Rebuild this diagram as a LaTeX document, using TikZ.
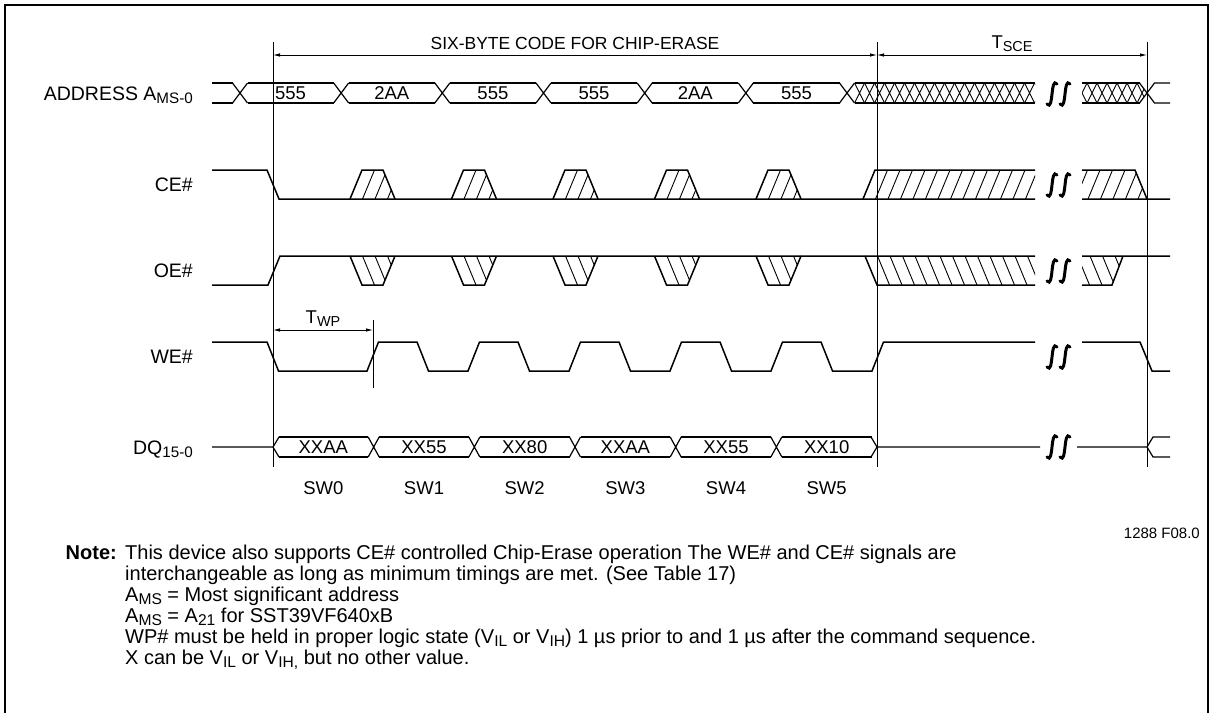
\documentclass[tikz,border=0pt]{standalone}
\usepackage{fontspec}
\setmainfont{Liberation Sans}
\usetikzlibrary{arrows.meta}

\newcommand{\lo}[1]{\raisebox{-0.18em}{\scalebox{0.78}{#1}}}

\tikzset{
  wave/.style={line width=1.5pt},
  bus/.style={line width=1.2pt},
  hatch/.style={line width=0.9pt},
  refline/.style={line width=0.8pt},
  dim/.style={line width=0.8pt, >={Latex[length=7pt,width=3.5pt]}, <->},
  lbl/.style={font=\fontsize{18.5}{21}\selectfont, inner sep=0pt},
  sig/.style={font=\fontsize{19.5}{22}\selectfont, inner sep=0pt, anchor=base east},
  note/.style={font=\fontsize{20}{23}\selectfont, inner sep=0pt, anchor=base west},
  brkmark/.style={line width=3pt, line cap=round},
}

% break mark: two long s strokes
\newcommand{\brk}[2]{%
  \draw[brkmark] (#1+5,#2-10) .. controls (#1-2,#2-18) and (#1+2,#2+18) .. (#1-5,#2+10);
  \draw[brkmark] (#1+18,#2-10) .. controls (#1+11,#2-18) and (#1+15,#2+18) .. (#1+8,#2+10);
}

\begin{document}
\begin{tikzpicture}[x=1pt,y=-1pt]
\useasboundingbox (0,0) rectangle (1213,713);
% frame
\draw[line width=2.2pt] (5,713) -- (5,5) -- (1208,5) -- (1208,713);

% timing reference lines
\foreach \n/\x in {a/273,b/877,c/1147} {
  \coordinate (\n-top) at (\x,42);
  \coordinate (\n-bot) at (\x,467);
  \coordinate (\n-dim) at (\x,55);
  \draw[refline] (\n-top) -- (\n-bot);
}
\draw[dim] (a-dim) -- (b-dim) node[midway,above=5pt,lbl,font=\fontsize{17.5}{20}\selectfont] (code) {SIX-BYTE CODE FOR CHIP-ERASE};
\draw[dim] (b-dim) -- (c-dim) node[midway,above=3pt,lbl] (tsce) {T\lo{SCE}};

% signal names
\path (193,100) node[sig] (addr) {ADDRESS A\lo{MS-0}};
\path (193,191.5) node[sig] (ce) {CE\#};
\path (193,277.5) node[sig] (oe) {OE\#};
\path (193,363.5) node[sig] (we) {WE\#};
\path (193,454) node[sig] (dq) {DQ\lo{15-0}};

% address bus
\draw[bus] (212,83) -- (232.5,83) (212,103) -- (232.5,103);
\foreach \k in {0,...,6} {
  \pgfmathsetmacro\cx{240+101.17*\k}
  \draw[bus] (\cx-7.5,83) -- (\cx+7.5,103) (\cx-7.5,103) -- (\cx+7.5,83);
}
\foreach \k/\v in {0/555,1/2AA,2/555,3/555,4/2AA,5/555} {
  \pgfmathsetmacro\cx{240+101.17*\k}
  \draw[bus] (\cx+7.5,83) -- (\cx+93.67,83) (\cx+7.5,103) -- (\cx+93.67,103);
  \path (\cx+50.58,93) node[lbl] (ad\k) {\v};
}
\draw[bus] (854.5,83) -- (1035,83) (854.5,103) -- (1035,103);
\begin{scope}
  \clip (854.5,83) rectangle (1035,103);
  \foreach \i in {0,...,18}
    \draw[hatch] (854.5+10*\i,83) -- ++(10,20) (854.5+10*\i,103) -- ++(10,-20);
\end{scope}
\draw[bus] (1082,83) -- (1139.5,83) (1082,103) -- (1139.5,103);
\begin{scope}
  \clip (1082,83) -- (1139.5,83) -- (1147,93) -- (1139.5,103) -- (1082,103) -- cycle;
  \foreach \i in {0,...,6}
    \draw[hatch] (1077+10*\i,83) -- ++(10,20) (1077+10*\i,103) -- ++(10,-20);
\end{scope}
\draw[bus] (1139.5,83) -- (1154.5,103) -- (1170,103) (1139.5,103) -- (1154.5,83) -- (1170,83);
\brk{1052}{94}

% CE#
\draw[wave] (212,170) -- (267,170) -- (279,199) -- (1035,199) (1082,199) -- (1170,199);
\foreach \k in {0,...,4} {
  \pgfmathsetmacro\tc{372.5+101.5*\k}
  \draw[wave] (\tc-22.5,199) -- (\tc-10.5,170) -- (\tc+10.5,170) -- (\tc+22.5,199);
  \begin{scope}
    \clip (\tc-22.5,199) -- (\tc-10.5,170) -- (\tc+10.5,170) -- (\tc+22.5,199) -- cycle;
    \foreach \i in {1,2,3} \draw[hatch] (\tc-22.5+12.5*\i,199) -- ++(12,-29);
  \end{scope}
}
\draw[wave] (863,199) -- (875,170) -- (1035,170);
\begin{scope}
  \clip (863,199) -- (875,170) -- (1035,170) -- (1035,199) -- cycle;
  \foreach \i in {1,...,14} \draw[hatch] (863+12.5*\i,199) -- ++(12,-29);
\end{scope}
\draw[wave] (1082,170) -- (1135,170) -- (1147,199);
\begin{scope}
  \clip (1082,199) -- (1082,170) -- (1135,170) -- (1147,199) -- cycle;
  \foreach \i in {17,...,22} \draw[hatch] (863+12.5*\i,199) -- ++(12,-29);
\end{scope}
\brk{1052}{185}

% OE#
\draw[wave] (212,285) -- (268,285) -- (280,256) -- (1035,256) (1082,256) -- (1170,256);
\foreach \k in {0,...,4} {
  \pgfmathsetmacro\tc{372.5+101.5*\k}
  \draw[wave] (\tc-22.5,256) -- (\tc-10.5,285) -- (\tc+10.5,285) -- (\tc+22.5,256);
  \begin{scope}
    \clip (\tc-22.5,256) -- (\tc-10.5,285) -- (\tc+10.5,285) -- (\tc+22.5,256) -- cycle;
    \foreach \i in {1,2,3} \draw[hatch] (\tc-22.5+12.5*\i,256) -- ++(12,29);
  \end{scope}
}
\draw[wave] (865,256) -- (877,285) -- (1035,285);
\begin{scope}
  \clip (865,256) -- (877,285) -- (1035,285) -- (1035,256) -- cycle;
  \foreach \i in {1,...,14} \draw[hatch] (865+12.5*\i,256) -- ++(12,29);
\end{scope}
\draw[wave] (1082,285) -- (1112,285) -- (1123,256);
\begin{scope}
  \clip (1082,256) -- (1082,285) -- (1112,285) -- (1123,256) -- cycle;
  \foreach \i in {17,...,21} \draw[hatch] (865+12.5*\i,256) -- ++(12,29);
\end{scope}
\brk{1052}{271}

% WE#
\draw[wave] (212,342) -- (267,342) -- (278.5,371) -- (367,371) -- (378.5,342)
  -- (417,342) -- (428.5,371) -- (468,371) -- (479.5,342)
  -- (518,342) -- (529.5,371) -- (569,371) -- (580.5,342)
  -- (619,342) -- (630.5,371) -- (670,371) -- (681.5,342)
  -- (720,342) -- (731.5,371) -- (771,371) -- (782.5,342)
  -- (821,342) -- (832.5,371) -- (872,371) -- (883.5,342) -- (1035,342);
\draw[wave] (1082,342) -- (1140,342) -- (1152,371) -- (1170,371);
\coordinate (wp-top) at (373,320);
\coordinate (wp-bot) at (373,388);
\coordinate (wp-dim) at (373,330);
\coordinate (a-wp) at (273,330);
\draw[refline] (wp-top) -- (wp-bot);
\draw[dim] (a-wp) -- (wp-dim) node[midway,above=3pt,lbl] (twp) {T\lo{WP}};
\brk{1052}{357}

% DQ bus
\draw[bus] (212,447) -- (273,447) -- (279,437) (273,447) -- (279,457);
\foreach \k in {1,...,5} {
  \pgfmathsetmacro\cx{273+100.67*\k}
  \draw[bus] (\cx-5.5,437) -- (\cx+5.5,457) (\cx-5.5,457) -- (\cx+5.5,437);
}
\foreach \k/\v in {0/XXAA,1/XX55,2/XX80,3/XXAA,4/XX55,5/XX10} {
  \pgfmathsetmacro\cx{273+100.67*\k}
  \draw[bus] (\cx+5.5,437) -- (\cx+95.17,437) (\cx+5.5,457) -- (\cx+95.17,457);
  \path (\cx+50.33,447) node[lbl] (dq\k) {\v};
  \path (\cx+50.33,488) node[lbl] (sw\k) {SW\k};
}
\draw[bus] (871,437) -- (877,447) -- (871,457);
\draw[bus] (877,447) -- (1040,447) (1077,447) -- (1147,447) -- (1153,437) -- (1170,437)
  (1147,447) -- (1153,457) -- (1170,457);
\brk{1052}{447}

\path (1200,533) node[lbl,anchor=east,font=\fontsize{15}{17}\selectfont] (fig) {1288 F08.0};

% notes
\path (125,559) node[note] (n1) {This device also supports CE\# controlled Chip-Erase operation The WE\# and CE\# signals are};
\path (n1.base west) ++(-8,0) node[note,anchor=base east,font=\fontsize{20}{23}\selectfont\bfseries] (nt) {Note:};
\path (125,580) node[note] (n2) {interchangeable as long as minimum timings are met. (See Table 17)};
\path (125,601) node[note] (n3) {A\lo{MS} = Most significant address};
\path (125,622) node[note] (n4) {A\lo{MS} = A\lo{21} for SST39VF640xB};
\path (125,643) node[note] (n5) {WP\# must be held in proper logic state (V\lo{IL} or V\lo{IH}) 1 µs prior to and 1 µs after the command sequence.};
\path (125,664) node[note] (n6) {X can be V\lo{IL} or V\lo{IH,} but no other value.};
\end{tikzpicture}
\end{document}
